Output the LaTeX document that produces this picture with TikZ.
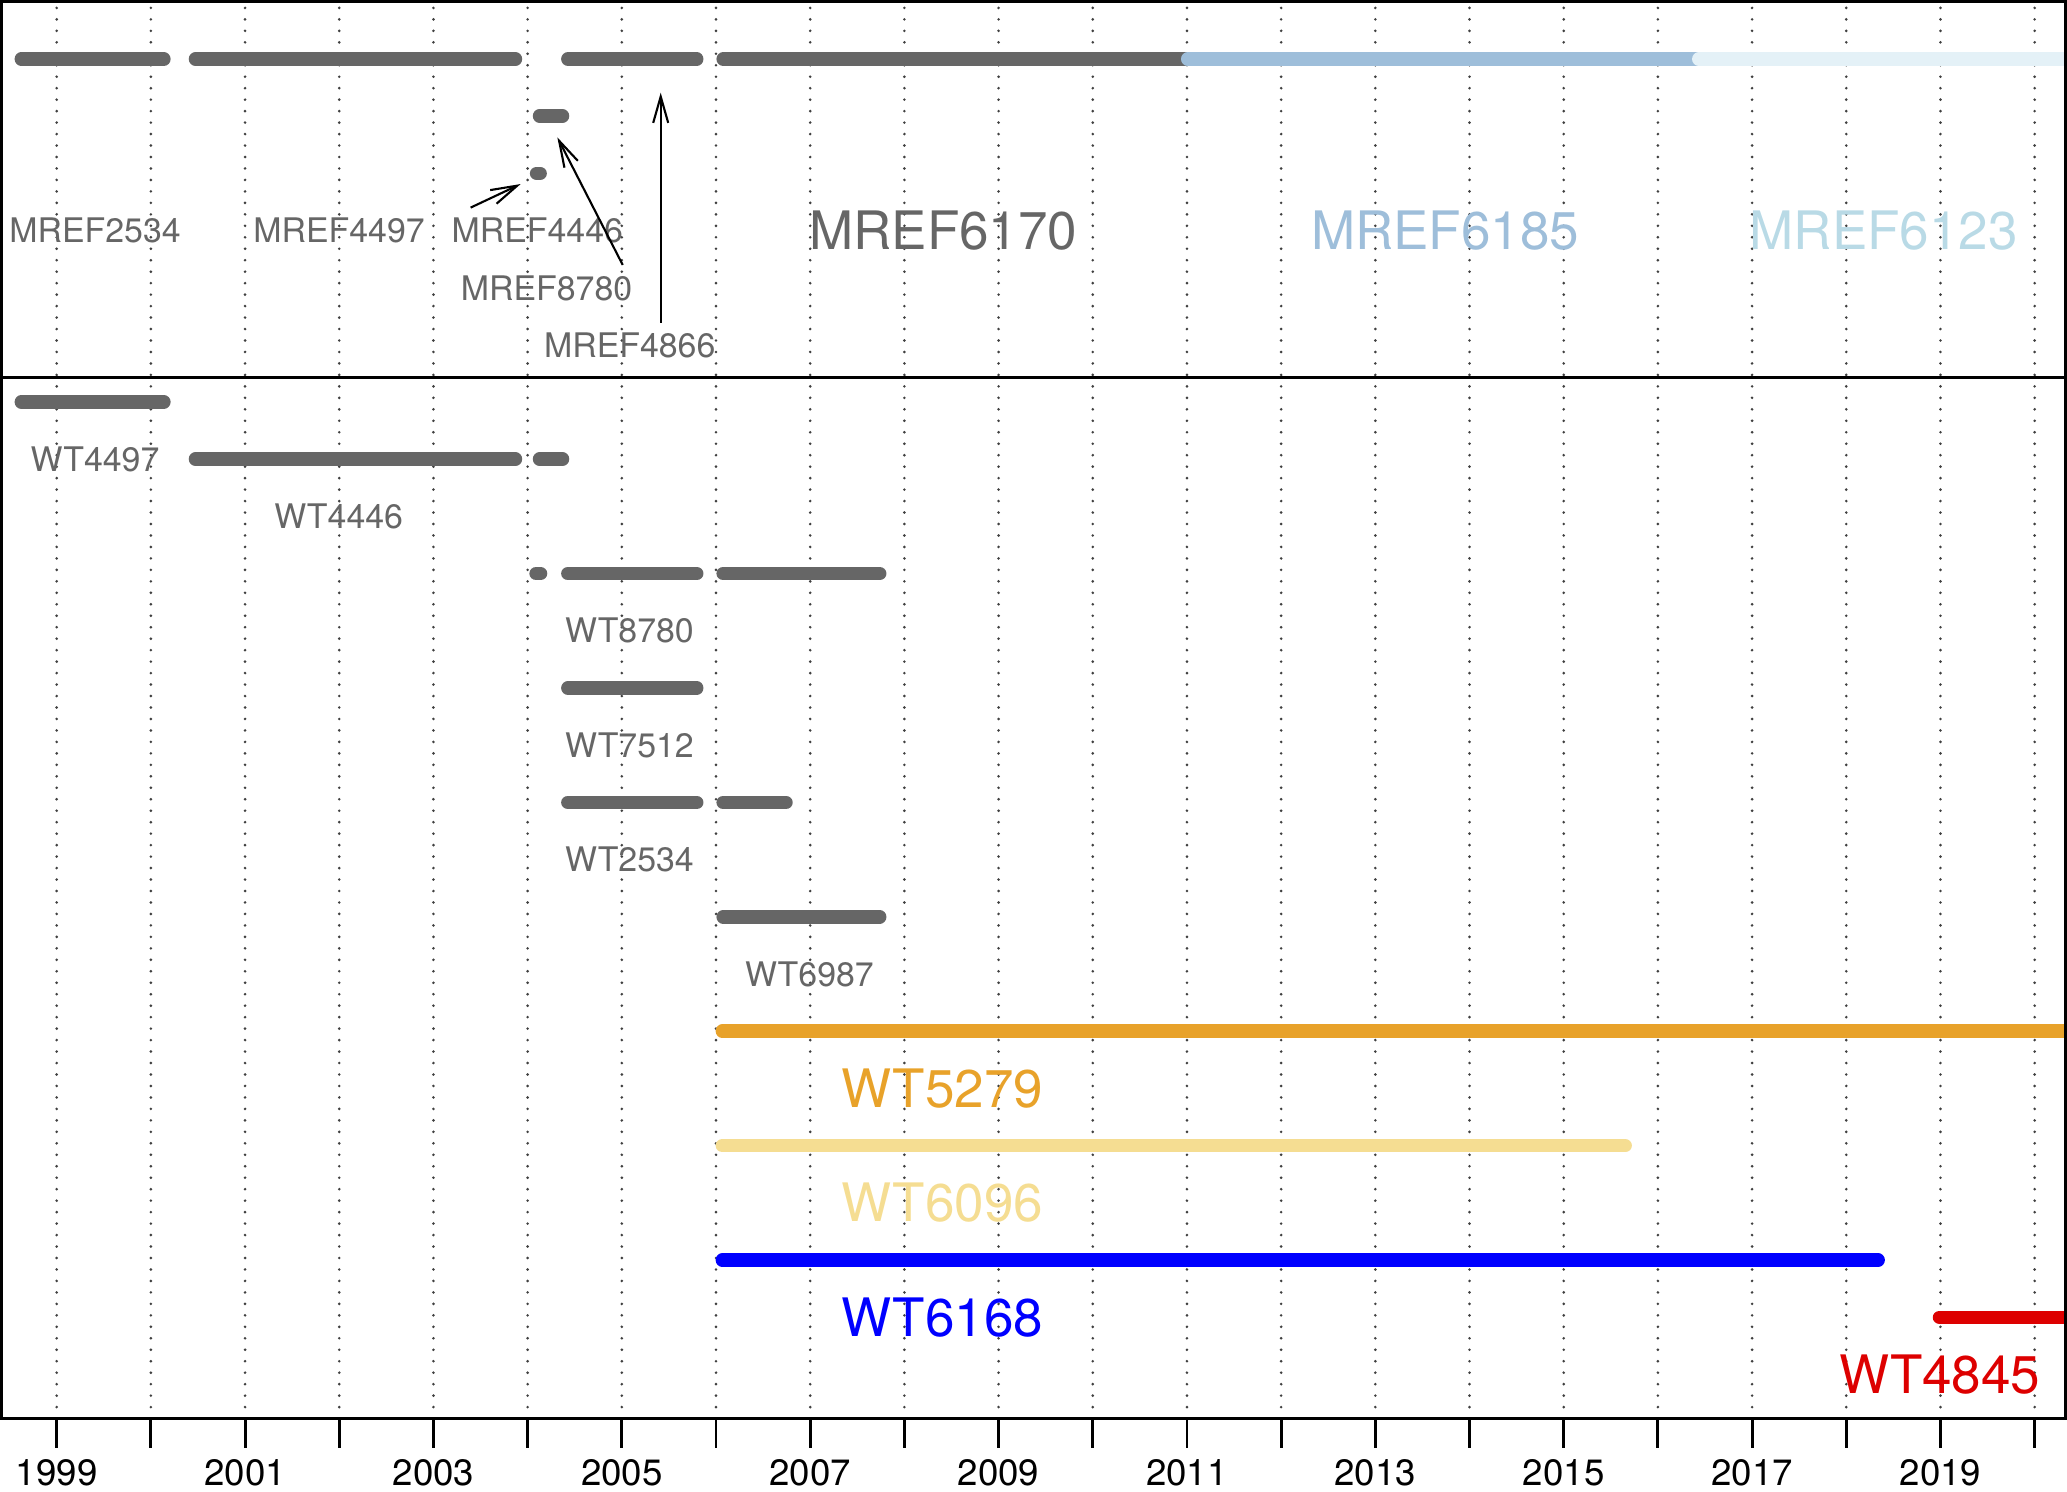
\documentclass[tikz,border=0pt]{standalone}
\usepackage{fontspec}
\setmainfont{TeX Gyre Heros}
\usetikzlibrary{arrows.meta}
\definecolor{dg}{HTML}{666666}
\definecolor{gridc}{HTML}{404040}
\definecolor{lb}{HTML}{9EBEDA}
\definecolor{pb}{HTML}{E4F1F7}
\definecolor{pbt}{HTML}{B9DAE6}
\definecolor{orng}{HTML}{E8A22A}
\definecolor{ylw}{HTML}{F5DD92}
\definecolor{bl}{HTML}{0000FF}
\definecolor{rd}{HTML}{DD0000}
\begin{document}
\begin{tikzpicture}[x=1pt,y=-1pt,
  barln/.style={line width=10.3pt,line cap=round},
  lab/.style={font=\fontsize{25.7}{30}\selectfont,text=dg,anchor=base,inner sep=0pt},
  biglab/.style={font=\fontsize{40.2}{46}\selectfont,anchor=base,inner sep=0pt},
  yrlab/.style={font=\fontsize{27.8}{32}\selectfont,anchor=base,inner sep=0pt},
  gridln/.style={gridc,line width=2.2pt,line cap=round,dash pattern=on 0pt off 8.7pt},
  frameln/.style={black,line width=2.2pt},
  arr/.style={black,line width=1.6pt,-{Straight Barb[length=20pt,width=11.4pt]}}]
\useasboundingbox (0,0) rectangle (1568,1131.8);
% grid
\foreach \k in {0,...,21}{
  \draw[gridln] ({43+\k*71.45},6) -- ({43+\k*71.45},1074);
}
% bars (clipped to plot region)
\begin{scope}
\clip (1.3,1.3) rectangle (1566.6,1076);
% top panel
\draw[barln,dg] (16.2,44.8) -- (124.3,44.8);
\draw[barln,dg] (148.3,44.8) -- (391,44.8);
\draw[barln,dg] (430.8,44.8) -- (528.5,44.8);
\draw[barln,dg] (548.6,44.8) -- (901,44.8);
\draw[barln,lb] (901,44.8) -- (1288.7,44.8);
\draw[barln,pb] (1288.7,44.8) -- (1620,44.8);
\draw[barln,dg] (409.3,88) -- (426.7,88);
\draw[barln,dg] (407.1,131.5) -- (409.7,131.5);
% bottom panel
\draw[barln,dg] (16.2,304.9) -- (124.3,304.9);
\draw[barln,dg] (148.3,348.3) -- (391,348.3);
\draw[barln,dg] (409.3,348.3) -- (426.7,348.3);
\draw[barln,dg] (406.7,435.1) -- (410,435.1);
\draw[barln,dg] (430.8,435.1) -- (528.5,435.1);
\draw[barln,dg] (548.6,435.1) -- (667.3,435.1);
\draw[barln,dg] (430.8,521.9) -- (528.5,521.9);
\draw[barln,dg] (430.8,608.7) -- (528.5,608.7);
\draw[barln,dg] (548.6,608.7) -- (596.2,608.7);
\draw[barln,dg] (548.6,695.5) -- (667.3,695.5);
\draw[barln,orng] (548,782.3) -- (1620,782.3);
\draw[barln,ylw] (548,869.1) -- (1232.8,869.1);
\draw[barln,bl] (548,955.9) -- (1424.7,955.9);
\draw[barln,rd] (1471.3,999.3) -- (1620,999.3);
\end{scope}
% frame
\draw[frameln] (1.3,1.3) rectangle (1566.6,1076);
\draw[frameln] (1.3,286.7) -- (1566.6,286.7);
% ticks and year labels
\foreach \k in {0,...,21}{
  \draw[frameln] ({43+\k*71.45},1076) -- ({43+\k*71.45},1098.5);
}
\foreach \k [evaluate=\k as \yr using int(1999+\k)] in {0,2,...,20}{
  \node[yrlab] (yr\k) at ({43+\k*71.45},1126.5) {\yr};
}
% top labels
\node[lab] (m2534) at (72.1,184.1) {MREF2534};
\node[lab] (m4497) at (257.2,184.1) {MREF4497};
\node[lab] (m4446) at (407.6,184.1) {MREF4446};
\node[lab] (m8780) at (414.6,227.7) {MREF8780};
\node[lab] (m4866) at (477.7,270.9) {MREF4866};
\node[biglab,text=dg] (m6170) at (715.6,189.5) {MREF6170};
\node[biglab,text=lb] (m6185) at (1096.3,189.5) {MREF6185};
\node[biglab,text=pbt] (m6123) at (1428.9,189.5) {MREF6123};
% arrows
\coordinate (a1s) at (357,157.5);
\coordinate (a1e) at (395,139.6);
\coordinate (a2s) at (472.4,201);
\coordinate (a2e) at (422.8,104.2);
\coordinate (a3s) at (501.2,245);
\coordinate (a3e) at (501.2,70.3);
\draw[arr] (a1s) -- (a1e);
\draw[arr] (a2s) -- (a2e);
\draw[arr] (a3s) -- (a3e);
% bottom labels
\node[lab] (w4497) at (72.1,357.5) {WT4497};
\node[lab] (w4446) at (256.9,400.9) {WT4446};
\node[lab] (w8780) at (477.5,487.7) {WT8780};
\node[lab] (w7512) at (477.5,574.5) {WT7512};
\node[lab] (w2534) at (477.5,661.3) {WT2534};
\node[lab] (w6987) at (614,748.2) {WT6987};
\node[biglab,text=orng] (w5279) at (714.9,839.8) {WT5279};
\node[biglab,text=ylw] (w6096) at (714.9,926.7) {WT6096};
\node[biglab,text=bl] (w6168) at (714.9,1013.7) {WT6168};
\node[biglab,text=rd] (w4845) at (1471.4,1056.9) {WT4845};
\end{tikzpicture}
\end{document}
